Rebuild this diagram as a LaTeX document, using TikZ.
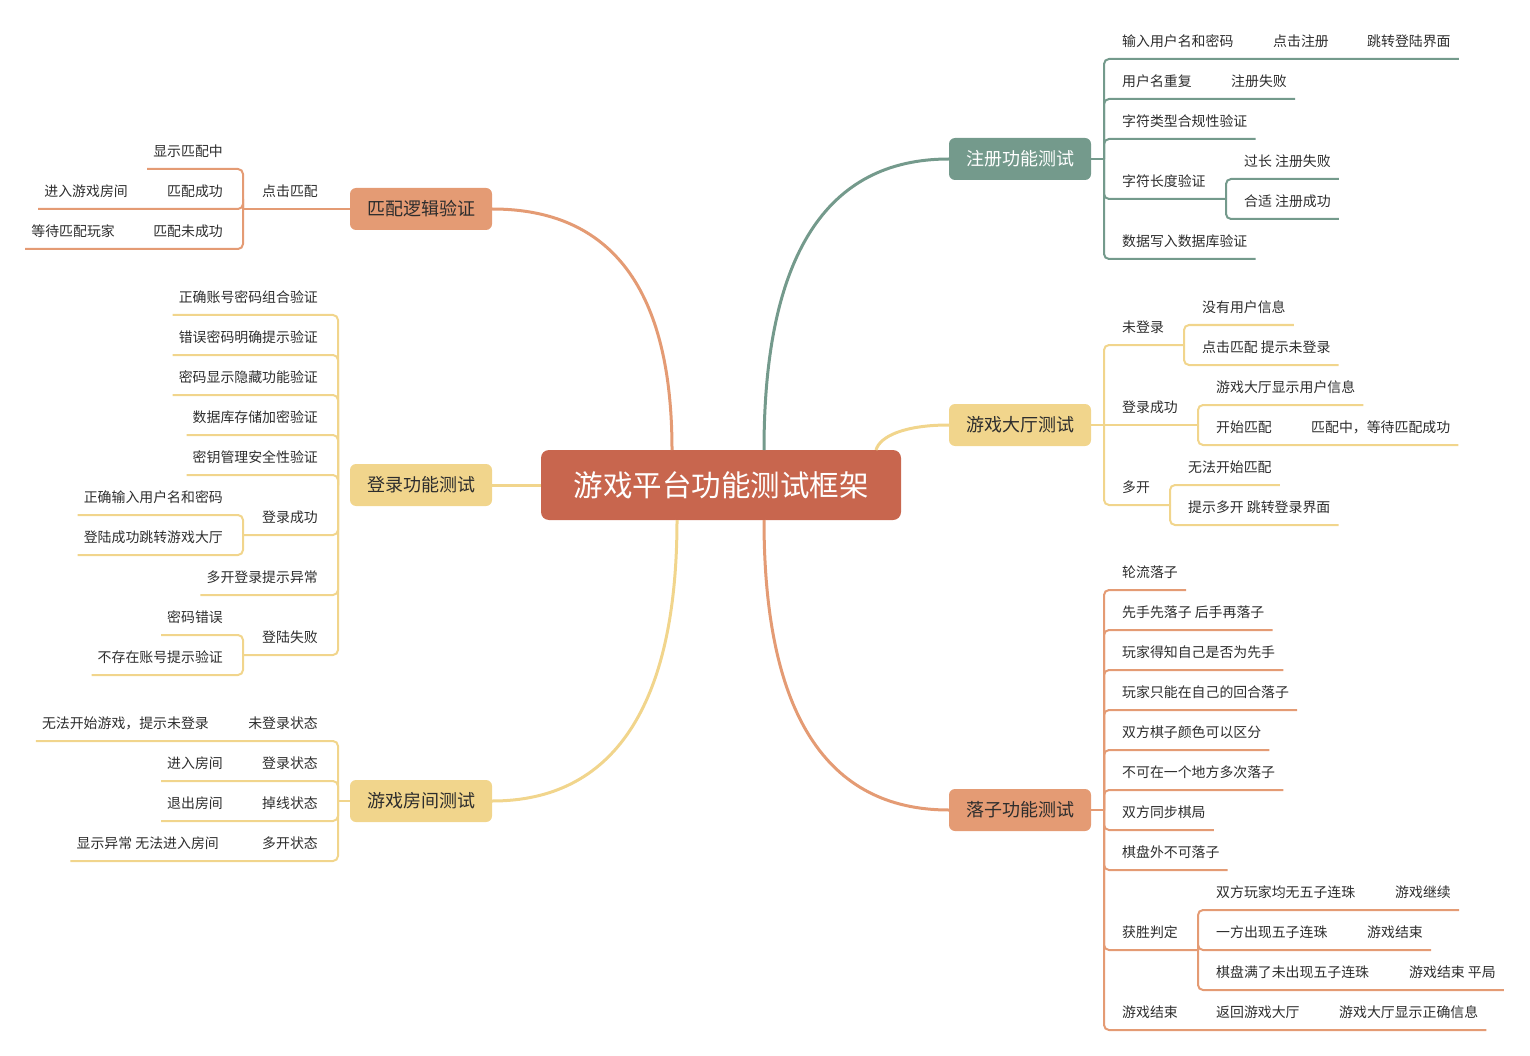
\documentclass[tikz,border=0pt]{standalone}
\usepackage{fontspec}
\setmainfont{Noto Sans CJK SC}
\usetikzlibrary{calc}
\definecolor{cteal}{RGB}{116,154,140}
\definecolor{cyel}{RGB}{241,213,140}
\definecolor{csal}{RGB}{228,155,116}
\definecolor{cred}{RGB}{200,102,78}
\definecolor{ctxt}{RGB}{45,45,45}
\newcommand\rtext[4]{\node[leaf,anchor=west] (#1) at (#2,#3-18) {#4};}
\newcommand\ltext[4]{\node[leaf,anchor=east] (#1) at (#2,#3-18) {#4};}
\newcommand\rline[3]{\draw[#1] (#2) |- ($(#3.east)+(8,18)$);}
\newcommand\lline[3]{\draw[#1] (#2) |- ($(#3.west)+(-6,18)$);}
\begin{document}
\begin{tikzpicture}[x=1pt,y=-1pt,
  leaf/.style={inner sep=0pt,text=ctxt,font=\fontsize{13.9}{16}\selectfont},
  mainbox/.style={rounded corners=6pt,minimum width=142pt,minimum height=42pt,inner sep=0pt,font=\fontsize{18}{20}\selectfont},
  tl/.style={draw=cteal,line width=2pt,rounded corners=5pt},
  yl/.style={draw=cyel,line width=2pt,rounded corners=5pt},
  sl/.style={draw=csal,line width=2pt,rounded corners=5pt},
  big/.style={line width=3pt}]
\useasboundingbox (0,0) rectangle (1530,1056);

% ---------- center and main nodes ----------
\node[fill=cred,rounded corners=8pt,minimum width=360pt,minimum height=70pt,inner sep=0pt,text=white,font=\fontsize{29.5}{32}\selectfont] (root) at (721,485) {游戏平台功能测试框架};
\node[mainbox,fill=cteal,text=white] (reg) at (1020,159) {注册功能测试};
\node[mainbox,fill=cyel,text=ctxt] (hall) at (1020,425) {游戏大厅测试};
\node[mainbox,fill=csal,text=ctxt] (move) at (1020,810) {落子功能测试};
\node[mainbox,fill=csal,text=ctxt] (match) at (421,209) {匹配逻辑验证};
\node[mainbox,fill=cyel,text=ctxt] (login) at (421,485) {登录功能测试};
\node[mainbox,fill=cyel,text=ctxt] (room) at (421,801) {游戏房间测试};

\coordinate (r1) at (764,450);
\coordinate (r2) at (876,450);
\coordinate (r3) at (764,520);
\coordinate (r4) at (672,450);
\coordinate (r6) at (677,520);

\draw[cteal,big] (r1) .. controls (764,256) and (826,159) .. (reg.west);
\draw[cyel,big] (r2) .. controls (880,436) and (905,425) .. (hall.west);
\draw[csal,big] (r3) .. controls (764,713) and (826,810) .. (move.west);
\draw[csal,big] (r4) .. controls (672,290) and (612,209) .. (match.east);
\draw[cyel,big] (root.west) -- (login.east);
\draw[cyel,big] (r6) .. controls (677,708) and (612,801) .. (room.east);

% ---------- 注册功能测试 ----------
\coordinate (J1) at (1104,159);
\draw[cteal,line width=2pt] (reg.east) -- (J1);
\rtext{a1}{1122}{59}{输入用户名和密码}
\rtext{a1b}{1273}{59}{点击注册}
\rtext{a1c}{1367}{59}{跳转登陆界面}
\rline{tl}{J1}{a1c}
\rtext{a2}{1122}{99}{用户名重复}
\rtext{a2b}{1231}{99}{注册失败}
\rline{tl}{J1}{a2b}
\rtext{a3}{1122}{139}{字符类型合规性验证}
\rline{tl}{J1}{a3}
\rtext{a4}{1122}{199}{字符长度验证}
\coordinate (J1a) at (1226,199);
\draw[tl] (J1) |- (J1a);
\rtext{a41}{1244}{179}{过长 注册失败}
\rline{tl}{J1a}{a41}
\rtext{a42}{1244}{219}{合适 注册成功}
\rline{tl}{J1a}{a42}
\rtext{a5}{1122}{259}{数据写入数据库验证}
\rline{tl}{J1}{a5}

% ---------- 游戏大厅测试 ----------
\coordinate (J2) at (1104,425);
\draw[cyel,line width=2pt] (hall.east) -- (J2);
\rtext{b1}{1122}{345}{未登录}
\coordinate (J2a) at (1184,345);
\draw[yl] (J2) |- (J2a);
\rtext{b11}{1202}{325}{没有用户信息}
\rline{yl}{J2a}{b11}
\rtext{b12}{1202}{365}{点击匹配 提示未登录}
\rline{yl}{J2a}{b12}
\rtext{b2}{1122}{425}{登录成功}
\coordinate (J2b) at (1198,425);
\draw[yl] (J2) -- (J2b);
\rtext{b21}{1216}{405}{游戏大厅显示用户信息}
\rline{yl}{J2b}{b21}
\rtext{b22}{1216}{445}{开始匹配}
\rtext{b22b}{1311}{445}{匹配中，等待匹配成功}
\rline{yl}{J2b}{b22b}
\rtext{b3}{1122}{505}{多开}
\coordinate (J2c) at (1170,505);
\draw[yl] (J2) |- (J2c);
\rtext{b31}{1188}{485}{无法开始匹配}
\rline{yl}{J2c}{b31}
\rtext{b32}{1188}{525}{提示多开 跳转登录界面}
\rline{yl}{J2c}{b32}

% ---------- 落子功能测试 ----------
\coordinate (J3) at (1104,810);
\draw[csal,line width=2pt] (move.east) -- (J3);
\rtext{c1}{1122}{590}{轮流落子}
\rline{sl}{J3}{c1}
\rtext{c2}{1122}{630}{先手先落子 后手再落子}
\rline{sl}{J3}{c2}
\rtext{c3}{1122}{670}{玩家得知自己是否为先手}
\rline{sl}{J3}{c3}
\rtext{c4}{1122}{710}{玩家只能在自己的回合落子}
\rline{sl}{J3}{c4}
\rtext{c5}{1122}{750}{双方棋子颜色可以区分}
\rline{sl}{J3}{c5}
\rtext{c6}{1122}{790}{不可在一个地方多次落子}
\rline{sl}{J3}{c6}
\rtext{c7}{1122}{830}{双方同步棋局}
\rline{sl}{J3}{c7}
\rtext{c8}{1122}{870}{棋盘外不可落子}
\rline{sl}{J3}{c8}
\rtext{c9}{1122}{950}{获胜判定}
\coordinate (J3a) at (1198,950);
\draw[sl] (J3) |- (J3a);
\rtext{c91}{1216}{910}{双方玩家均无五子连珠}
\rtext{c91b}{1395}{910}{游戏继续}
\rline{sl}{J3a}{c91b}
\rtext{c92}{1216}{950}{一方出现五子连珠}
\rtext{c92b}{1367}{950}{游戏结束}
\rline{sl}{J3a}{c92b}
\rtext{c93}{1216}{990}{棋盘满了未出现五子连珠}
\rtext{c93b}{1409}{990}{游戏结束 平局}
\rline{sl}{J3a}{c93b}
\rtext{c10}{1122}{1030}{游戏结束}
\rtext{c10b}{1216}{1030}{返回游戏大厅}
\rtext{c10c}{1339}{1030}{游戏大厅显示正确信息}
\rline{sl}{J3}{c10c}

% ---------- 匹配逻辑验证 ----------
\coordinate (J4) at (338,209);
\draw[csal,line width=2pt] (match.west) -- (J4);
\ltext{d1}{318}{209}{点击匹配}
\coordinate (J4a) at (243,209);
\draw[sl] (J4) -- (J4a);
\ltext{d11}{223}{169}{显示匹配中}
\lline{sl}{J4a}{d11}
\ltext{d12}{223}{209}{匹配成功}
\ltext{d12b}{128}{209}{进入游戏房间}
\lline{sl}{J4a}{d12b}
\ltext{d13}{223}{249}{匹配未成功}
\ltext{d13b}{115}{249}{等待匹配玩家}
\lline{sl}{J4a}{d13b}

% ---------- 登录功能测试 ----------
\coordinate (J5) at (338,485);
\ltext{e1}{318}{315}{正确账号密码组合验证}
\lline{yl}{J5}{e1}
\ltext{e2}{318}{355}{错误密码明确提示验证}
\lline{yl}{J5}{e2}
\ltext{e3}{318}{395}{密码显示隐藏功能验证}
\lline{yl}{J5}{e3}
\ltext{e4}{318}{435}{数据库存储加密验证}
\lline{yl}{J5}{e4}
\ltext{e5}{318}{475}{密钥管理安全性验证}
\lline{yl}{J5}{e5}
\ltext{e6}{318}{535}{登录成功}
\coordinate (J5a) at (243,535);
\draw[yl] (J5) |- (J5a);
\ltext{e61}{223}{515}{正确输入用户名和密码}
\lline{yl}{J5a}{e61}
\ltext{e62}{223}{555}{登陆成功跳转游戏大厅}
\lline{yl}{J5a}{e62}
\ltext{e7}{318}{595}{多开登录提示异常}
\lline{yl}{J5}{e7}
\ltext{e8}{318}{655}{登陆失败}
\coordinate (J5b) at (243,655);
\draw[yl] (J5) |- (J5b);
\ltext{e81}{223}{635}{密码错误}
\lline{yl}{J5b}{e81}
\ltext{e82}{223}{675}{不存在账号提示验证}
\lline{yl}{J5b}{e82}

% ---------- 游戏房间测试 ----------
\coordinate (J6) at (338,801);
\draw[cyel,line width=2pt] (room.west) -- (J6);
\ltext{f1}{318}{741}{未登录状态}
\ltext{f1b}{209}{741}{无法开始游戏，提示未登录}
\lline{yl}{J6}{f1b}
\ltext{f2}{318}{781}{登录状态}
\ltext{f2b}{223}{781}{进入房间}
\lline{yl}{J6}{f2b}
\ltext{f3}{318}{821}{掉线状态}
\ltext{f3b}{223}{821}{退出房间}
\lline{yl}{J6}{f3b}
\ltext{f4}{318}{861}{多开状态}
\ltext{f4b}{219}{861}{显示异常 无法进入房间}
\lline{yl}{J6}{f4b}
\end{tikzpicture}
\end{document}
